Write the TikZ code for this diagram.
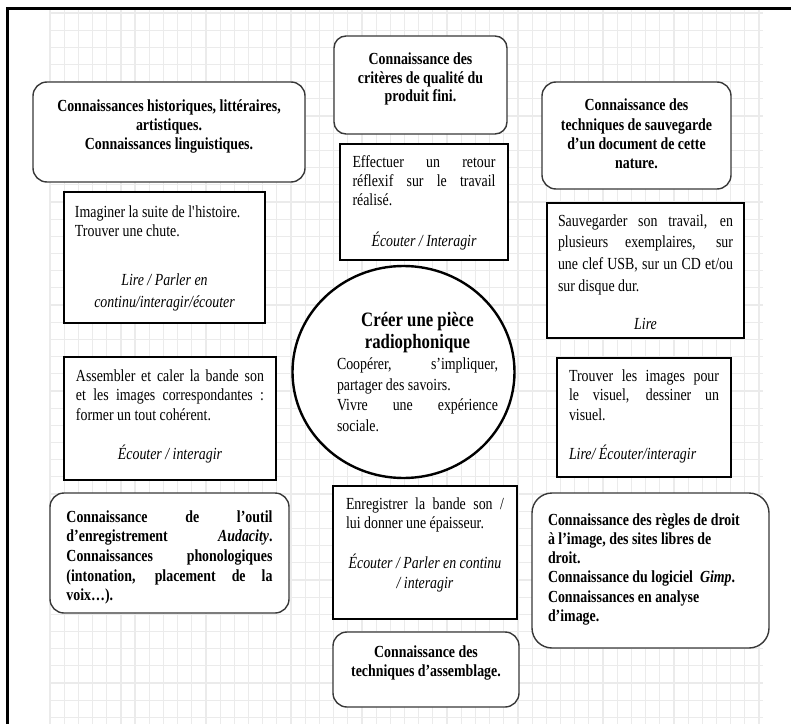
\documentclass[tikz,border=0pt]{standalone}
\usepackage{fontspec}
\setmainfont{Liberation Serif}[FakeStretch=0.82]
\usetikzlibrary{shapes.geometric}
\tolerance=10000
\hbadness=10000
\vbadness=10000
\newcommand\boxtxt[5]{\parbox[c][#1bp][t]{#2bp}{#4\vspace*{#3bp}\rule{0pt}{14bp}#5}}
\tikzset{
  x=1bp, y=-1bp,
  rbox/.style={draw=black!78, line width=1.4bp, rounded corners=14bp, fill=white, inner sep=0pt},
  sbox/.style={draw=black, line width=1.4bp, fill=white, inner sep=0pt},
  gridline/.style={draw=black!8, line width=1.2bp},
  frameline/.style={draw=black, line width=3bp},
  centre/.style={draw=black, line width=2.4bp, fill=white, ellipse, inner sep=0pt},
}
\begin{document}
\begin{tikzpicture}
\useasboundingbox (0,0) rectangle (791,724);
% grid
\foreach \i in {0,...,50} \draw[gridline] ({50+14.18*\i},10) -- ({50+14.18*\i},724);
\foreach \j in {0,...,41} \draw[gridline] (50,{13+17.18*\j}) -- (763,{13+17.18*\j});
% frame
\draw[frameline] (7.5,724) -- (7.5,8.5) -- (791,8.5);

% knowledge boxes (rounded)
\node[rbox, minimum width=272bp, minimum height=100bp] (kA) at (169,132)
  {\boxtxt{100}{250}{16}{\bfseries\centering\fontsize{17}{19}\selectfont}{Connaissances historiques, littéraires,\\ artistiques.\\ Connaissances linguistiques.}};
\node[rbox, rounded corners=12bp, minimum width=173bp, minimum height=98bp] (kB) at (420.5,85)
  {\boxtxt{98}{165}{15}{\bfseries\centering\fontsize{17}{18.5}\selectfont}{Connaissance des\\ critères de qualité du\\ produit fini.}};
\node[rbox, minimum width=189bp, minimum height=107bp] (kC) at (636.5,135.5)
  {\boxtxt{107}{180}{15}{\bfseries\centering\fontsize{17}{19.4}\selectfont}{Connaissance des\\ techniques de sauvegarde\\ d’un document de cette\\ nature.}};
\node[rbox, minimum width=239bp, minimum height=120bp] (kJ) at (169.5,553)
  {\boxtxt{120}{206}{15}{\bfseries\fontsize{17}{19.75}\selectfont}{Connaissance de l’outil\linebreak d’enregistrement \textit{Audacity}.\linebreak Connaissances phonologiques\linebreak (intonation, placement de la\linebreak voix…).}};
\node[rbox, minimum width=186bp, minimum height=75bp] (kL) at (426,669.5)
  {\boxtxt{75}{170}{11}{\bfseries\centering\fontsize{17}{20}\selectfont}{Connaissance des\\ techniques d’assemblage.}};
\node[rbox, rounded corners=20bp, minimum width=237bp, minimum height=155bp] (kM) at (650.5,570.5)
  {\boxtxt{155}{205}{18}{\bfseries\raggedright\fontsize{17}{19.4}\selectfont}{Connaissance des règles de droit\\ à l’image, des sites libres de\\ droit.\\ Connaissance du logiciel\ \ \textit{Gimp}.\\ Connaissances en analyse\\ d’image.}};

% activity boxes (square)
\node[sbox, minimum width=168bp, minimum height=116bp] (aD) at (424,202)
  {\boxtxt{116}{143}{9}{\fontsize{17}{19.5}\selectfont}{Effectuer un retour\linebreak réflexif sur le travail\linebreak réalisé.\par\vspace{21.5bp}{\centering\itshape Écouter / Interagir\par}}};
\node[sbox, minimum width=201bp, minimum height=131bp] (aE) at (164.5,257.5)
  {\boxtxt{131}{179}{11}{\fontsize{17}{20}\selectfont}{Imaginer la suite de l\textquotesingle histoire.\par Trouver une chute.\par\vspace{27bp}{\centering\itshape\fontsize{17}{22}\selectfont Lire / Parler en\\ continu/interagir/écouter\par}}};
\node[sbox, minimum width=212bp, minimum height=123bp] (aF) at (170,418.5)
  {\boxtxt{123}{188}{10}{\fontsize{17}{20}\selectfont}{Assembler et caler la bande son\linebreak et les images correspondantes :\linebreak former un tout cohérent.\par\vspace{19bp}{\centering\itshape Écouter / interagir\par}}};
\node[sbox, minimum width=197bp, minimum height=135bp] (aH) at (645.5,270.5)
  {\boxtxt{135}{175}{9}{\fontsize{17}{22}\selectfont}{Sauvegarder son travail, en\linebreak plusieurs exemplaires, sur\linebreak une clef USB, sur un CD et/ou\linebreak sur disque dur.\par\vspace{16bp}{\centering\itshape Lire\par}}};
\node[sbox, minimum width=174bp, minimum height=119bp] (aI) at (644,417.5)
  {\boxtxt{119}{150}{9}{\fontsize{17}{20}\selectfont}{Trouver les images pour\linebreak le visuel, dessiner un\linebreak visuel.\par\vspace{19bp}{\itshape Lire/ Écouter/interagir\par}}};
\node[sbox, minimum width=184bp, minimum height=133bp] (aK) at (425,552.5)
  {\boxtxt{133}{158}{9}{\fontsize{17}{20}\selectfont}{Enregistrer la bande son /\linebreak lui donner une épaisseur.\par\vspace{20bp}{\centering\itshape Écouter / Parler en continu\\ / interagir\par}}};

% central ellipse
\node[centre, minimum width=222bp, minimum height=212bp] (g) at (403.5,372) {};
\node[anchor=north, inner sep=0pt] (gt) at (417.5,310)
  {\parbox[t]{161bp}{\rule{0pt}{16bp}{\centering\bfseries\fontsize{20.5}{22}\selectfont Créer une pièce\\ radiophonique\par}\fontsize{17}{20.6}\selectfont\vspace{1bp}Coopérer, s’impliquer,\linebreak partager des savoirs.\par Vivre une expérience\linebreak sociale.}};
\end{tikzpicture}
\end{document}
